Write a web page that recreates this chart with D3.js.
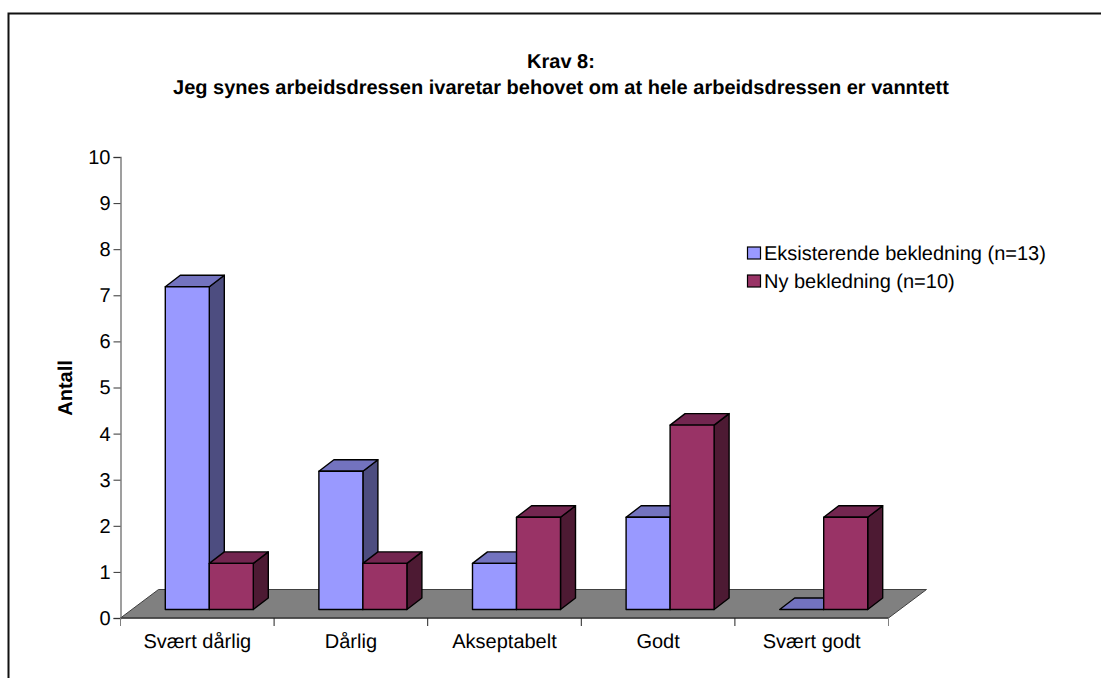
<!DOCTYPE html>
<html>
<head>
<meta charset="utf-8">
<script src="https://cdn.jsdelivr.net/npm/d3@7"></script>
<style>
  html, body { margin: 0; padding: 0; background: #fff; overflow: hidden; }
  text { font-family: "Liberation Sans", Arial, sans-serif; fill: #000; text-rendering: geometricPrecision; }
</style>
</head>
<body>
<svg id="chart" width="1101" height="678"></svg>
<script>
// Data
const categories = ["Svært dårlig", "Dårlig", "Akseptabelt", "Godt", "Svært godt"];
const seriesNames = ["Eksisterende bekledning (n=13)", "Ny bekledning (n=10)"];
const eksisterende = [7, 3, 1, 2, 0];
const ny = [1, 1, 2, 4, 2];
const yTicks = [0, 1, 2, 3, 4, 5, 6, 7, 8, 9, 10];
const titleLines = ["Krav 8:", "Jeg synes arbeidsdressen ivaretar behovet om at hele arbeidsdressen er vanntett"];

const seriesValues = [eksisterende, ny];
const faceColors = ["#9999ff", "#993366"];
const topColors = ["#7373bf", "#732650"];
const sideColors = ["#4d4d80", "#4d1a33"];

const svg = d3.select("#chart");

// Left and top part of the outer frame, the rest is cut off
svg.append("path")
    .attr("d", "M8.5,678 V13.5 H1101")
    .attr("fill", "none")
    .attr("stroke", "#111")
    .attr("stroke-width", 2);

const x = d3.scaleBand().domain(categories).range([120.5, 888.5]);
const y = d3.scaleLinear().domain([0, 10]).range([618, 157]);

// 3d offsets: floor depth, bar position in the depth, bar depth
const floorDx = 38, floorDy = -28.5;
const barDx = 12, barDy = -8.5;
const depthDx = 15, depthDy = -11.5;
const barW = 44;

// floor
const x0 = x.range()[0], x1 = x.range()[1], yBase = y(0);
svg.append("polygon")
    .attr("points", [[x0, yBase], [x1, yBase], [x1 + floorDx, yBase + floorDy], [x0 + floorDx, yBase + floorDy]].join(" "))
    .attr("fill", "#808080")
    .attr("stroke", "#404040")
    .attr("stroke-width", 1);

// y axis
const yAxis = d3.axisLeft(y).tickValues(yTicks).tickSize(7).tickPadding(3).tickFormat(d3.format("d"));
const gy = svg.append("g").attr("transform", "translate(120.5,0)").call(yAxis);
gy.select(".domain").attr("stroke", "#808080").attr("stroke-width", 1.5);
gy.selectAll(".tick line").attr("stroke", "#333");
gy.selectAll("text").style("font-size", "20px").attr("fill", "#000");

// x axis
const gx = svg.append("g").attr("transform", "translate(0," + yBase + ")");
gx.append("line").attr("x1", x0).attr("x2", x1).attr("stroke", "#404040").attr("stroke-width", 1.5);
[...categories.map(c => x(c)), x1].forEach((p, i) => {
  gx.append("line").attr("x1", p).attr("x2", p).attr("y1", 0).attr("y2", 8)
    .attr("stroke", i == 0 || i == categories.length ? "#808080" : "#222");
});
gx.selectAll("text.cat")
    .data(categories)
    .join("text")
    .attr("class", "cat")
    .attr("x", d => x(d) + x.bandwidth() / 2)
    .attr("y", 30)
    .attr("text-anchor", "middle")
    .attr("font-size", 20)
    .text(d => d);

// bars, one series after the other inside each category
const groupW = barW * seriesNames.length;
const barX = (i, s) => x(categories[i]) + (x.bandwidth() - groupW) / 2 + barDx + s * barW;

const drawBar = (i, s) => {
  const v = seriesValues[s][i];
  const bx = barX(i, s), bx2 = bx + barW;
  const top = y(v) + barDy, bottom = yBase + barDy;
  const g = svg.append("g").attr("stroke", "#000").attr("stroke-width", 1.4).attr("stroke-linejoin", "round");
  g.append("polygon")
      .attr("points", [[bx2, top], [bx2 + depthDx, top + depthDy], [bx2 + depthDx, bottom + depthDy], [bx2, bottom]].join(" "))
      .attr("fill", sideColors[s]);
  g.append("polygon")
      .attr("points", [[bx, top], [bx + depthDx, top + depthDy], [bx2 + depthDx, top + depthDy], [bx2, top]].join(" "))
      .attr("fill", topColors[s]);
  g.append("rect")
      .attr("x", bx).attr("y", top).attr("width", barW).attr("height", bottom - top)
      .attr("fill", faceColors[s]);
};
categories.forEach((c, i) => seriesNames.forEach((n, s) => drawBar(i, s)));

// titles
svg.append("g").selectAll("text")
    .data(titleLines)
    .join("text")
    .attr("x", 561)
    .attr("y", (d, i) => 68 + i * 26)
    .attr("text-anchor", "middle")
    .attr("font-size", 20)
    .attr("font-weight", "bold")
    .text(d => d);

svg.append("text")
    .attr("transform", "translate(72,388) rotate(-90)")
    .attr("text-anchor", "middle")
    .attr("font-size", 20)
    .attr("font-weight", "bold")
    .text("Antall");

// legend
const legend = svg.append("g").selectAll("g")
    .data(seriesNames)
    .join("g")
    .attr("transform", (d, i) => "translate(747.5," + (247 + i * 28) + ")");
legend.append("rect")
    .attr("width", 13).attr("height", 12)
    .attr("fill", (d, i) => faceColors[i])
    .attr("stroke", "#000")
    .attr("stroke-width", 1.2);
legend.append("text")
    .attr("x", 16.5)
    .attr("y", 13)
    .attr("font-size", 20)
    .text(d => d);
</script>
</body>
</html>
